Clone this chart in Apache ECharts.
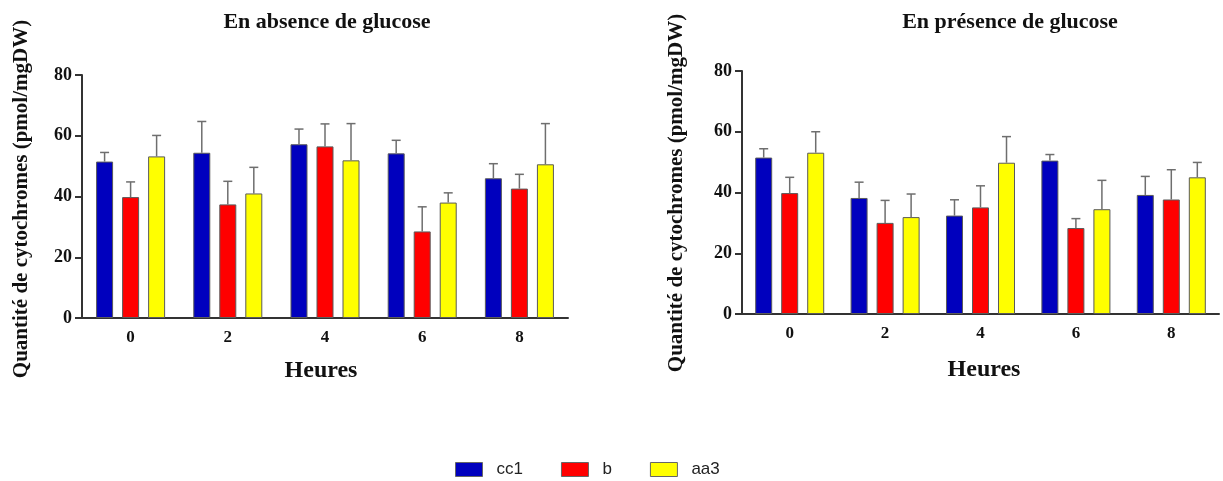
<!DOCTYPE html>
<html>
<head>
<meta charset="utf-8">
<script src="https://cdn.jsdelivr.net/npm/echarts@6/dist/echarts.min.js"></script>
<style>html,body{margin:0;padding:0;background:#fff}#c{width:1223px;height:481px}</style>
</head>
<body>
<div id="c"></div>
<script>
const hours = ['0', '2', '4', '6', '8'];
const seriesNames = ['cc1', 'b', 'aa3'];
const yTicks = [0, 20, 40, 60, 80];

// En absence de glucose
const absCC1 = [51.5, 54.4, 57.2, 54.2, 46.0];
const absCC1Err = [3.0, 10.3, 5.0, 4.3, 4.8];
const absB = [39.8, 37.4, 56.5, 28.5, 42.6];
const absBErr = [5.0, 7.6, 7.4, 8.1, 4.7];
const absAA3 = [53.2, 41.0, 51.9, 38.0, 50.6];
const absAA3Err = [6.9, 8.6, 12.1, 3.2, 13.4];

// En présence de glucose
const preCC1 = [51.5, 38.2, 32.4, 50.5, 39.2];
const preCC1Err = [2.9, 5.2, 5.2, 2.0, 6.1];
const preB = [39.8, 30.0, 35.1, 28.3, 37.7];
const preBErr = [5.2, 7.4, 7.1, 3.1, 9.8];
const preAA3 = [53.1, 31.9, 49.8, 34.5, 45.0];
const preAA3Err = [6.9, 7.6, 8.6, 9.5, 4.9];

const colors = ['#0000BE', '#FF0000', '#FFFF00'];
const BAR_W = 17, BAR_GAP = 0.53;
const serif = '"Liberation Serif", "Times New Roman", serif';

function axisPair(gi) {
  return {
    x: {
      type: 'category', gridIndex: gi, data: hours,
      axisLine: {lineStyle: {color: '#333', width: 2}},
      axisTick: {alignWithLabel: true, length: 7, lineStyle: {color: '#333', width: 2}},
      axisLabel: {fontFamily: serif, fontWeight: 'bold', fontSize: 17, color: '#111', margin: 11}
    },
    y: {
      type: 'value', gridIndex: gi, min: 0, max: 80, interval: 20,
      splitLine: {show: false},
      axisLine: {show: true, lineStyle: {color: '#333', width: 2}},
      axisTick: {show: true, length: 7, lineStyle: {color: '#333', width: 2}},
      axisLabel: {fontFamily: serif, fontWeight: 'bold', fontSize: 18, color: '#111', margin: 10}
    }
  };
}

function barSeries(name, data, gi, ci) {
  return {
    type: 'bar', name: name, xAxisIndex: gi, yAxisIndex: gi, data: data,
    barWidth: BAR_W, barGap: (BAR_GAP * 100) + '%',
    itemStyle: {color: colors[ci], borderColor: '#5a5a5a', borderWidth: 1},
    z: 2
  };
}

function errSeries(name, means, errs, gi, ci) {
  const offset = (ci - 1) * BAR_W * (1 + BAR_GAP);
  return {
    type: 'custom', name: name + ' err', xAxisIndex: gi, yAxisIndex: gi,
    data: means.map((m, i) => [i, m, errs[i]]),
    encode: {x: 0, y: 1},
    z: 3,
    renderItem: function (params, api) {
      const i = api.value(0), m = api.value(1), e = api.value(2);
      const p0 = api.coord([i, m]);
      const p1 = api.coord([i, m + e]);
      const x = p0[0] + offset;
      const st = {stroke: '#6e6e6e', lineWidth: 1.5};
      return {
        type: 'group',
        children: [
          {type: 'line', shape: {x1: x, y1: p0[1], x2: x, y2: p1[1]}, style: st},
          {type: 'line', shape: {x1: x - 4.5, y1: p1[1], x2: x + 4.5, y2: p1[1]}, style: st}
        ]
      };
    }
  };
}

const a0 = axisPair(0), a1 = axisPair(1);
const absData = [[absCC1, absCC1Err], [absB, absBErr], [absAA3, absAA3Err]];
const preData = [[preCC1, preCC1Err], [preB, preBErr], [preAA3, preAA3Err]];
const series = [];
absData.forEach((d, ci) => series.push(barSeries(seriesNames[ci], d[0], 0, ci)));
preData.forEach((d, ci) => series.push(barSeries(seriesNames[ci], d[0], 1, ci)));
absData.forEach((d, ci) => series.push(errSeries(seriesNames[ci], d[0], d[1], 0, ci)));
preData.forEach((d, ci) => series.push(errSeries(seriesNames[ci], d[0], d[1], 1, ci)));

const yName = 'Quantité de cytochromes (pmol/mgDW)';
const titleStyle = {fontFamily: serif, fontWeight: 'bold', fontSize: 22, color: '#111'};
const option = {
  animation: false,
  backgroundColor: '#fff',
  title: [
    {text: 'En absence de glucose', left: 322, top: 6, textAlign: 'center', textStyle: titleStyle},
    {text: 'En présence de glucose', left: 1005, top: 6, textAlign: 'center', textStyle: titleStyle}
  ],
  grid: [
    {left: 82, top: 75, width: 486, height: 243},
    {left: 742, top: 71, width: 477, height: 243}
  ],
  xAxis: [a0.x, a1.x],
  yAxis: [a0.y, a1.y],
  legend: {
    data: seriesNames, left: 455, top: 461, padding: 0, icon: 'rect',
    itemWidth: 27, itemHeight: 14, itemGap: 38,
    itemStyle: {borderColor: '#666', borderWidth: 1},
    textStyle: {fontFamily: '"Liberation Sans", Arial, sans-serif', fontSize: 17, color: '#222', padding: [0, 0, 0, 9]}
  },
  graphic: [
    {type: 'text', x: 22, y: 199, rotation: Math.PI / 2,
     style: {text: yName, fontFamily: serif, fontWeight: 'bold', fontSize: 21, fill: '#111',
             textAlign: 'center', textVerticalAlign: 'middle'}},
    {type: 'text', x: 677, y: 193, rotation: Math.PI / 2,
     style: {text: yName, fontFamily: serif, fontWeight: 'bold', fontSize: 21, fill: '#111',
             textAlign: 'center', textVerticalAlign: 'middle'}},
    {type: 'text', x: 321, y: 371,
     style: {text: 'Heures', fontFamily: serif, fontWeight: 'bold', fontSize: 24, fill: '#111',
             textAlign: 'center', textVerticalAlign: 'middle'}},
    {type: 'text', x: 984, y: 370,
     style: {text: 'Heures', fontFamily: serif, fontWeight: 'bold', fontSize: 24, fill: '#111',
             textAlign: 'center', textVerticalAlign: 'middle'}}
  ],
  series: series
};
echarts.init(document.getElementById('c')).setOption(option);
</script>
</body>
</html>
